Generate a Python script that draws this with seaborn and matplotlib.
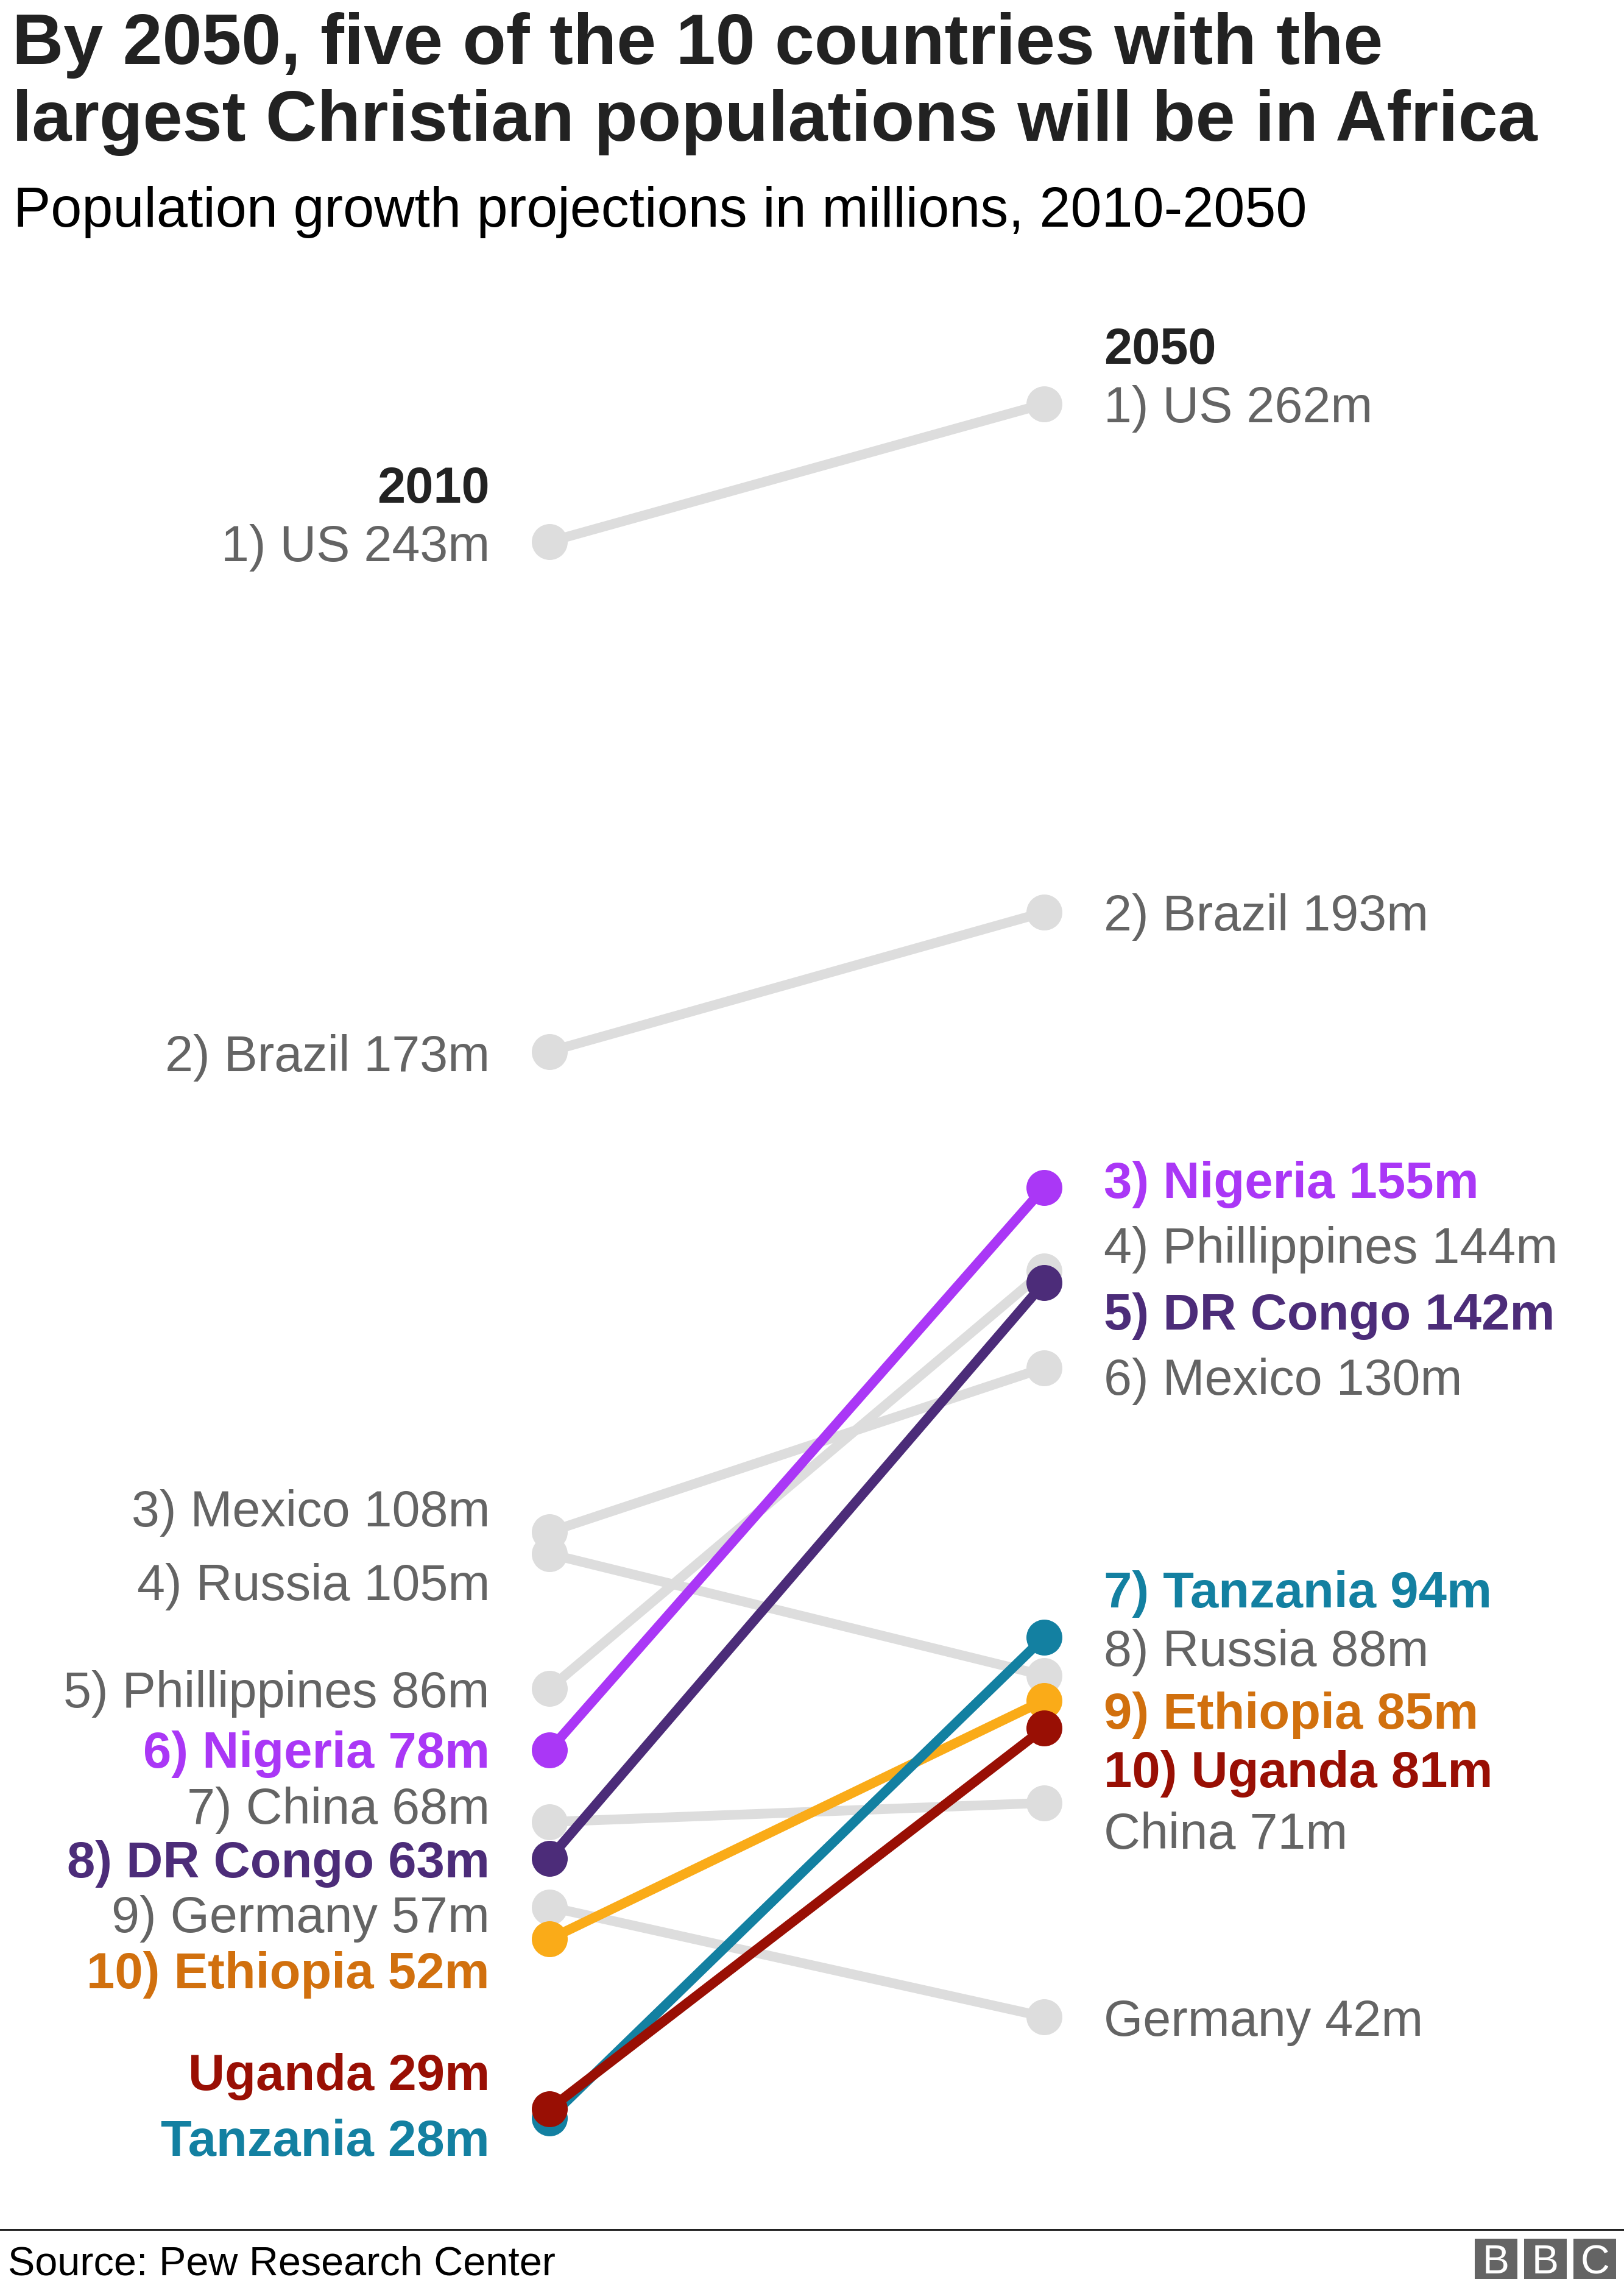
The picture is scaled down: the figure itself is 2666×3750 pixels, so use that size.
from __future__ import annotations

import pandas as pd
import seaborn as sns
from matplotlib import pyplot as plt
from matplotlib.patches import Rectangle


WIDTH, HEIGHT = 2666, 3750

COUNTRIES = [
    "US", "Brazil", "Mexico", "Russia", "Phillippines", "China", "Germany",
    "Nigeria", "DR Congo", "Ethiopia", "Tanzania", "Uganda",
]
# read off the dot positions, which are not quite the rounded labels
VALUES_2010 = [243.2, 173.6, 108, 105, 86.6, 68.4, 56.8, 78.2, 63.4, 52.4, 28, 29.2]
VALUES_2050 = [262, 192.6, 130.4, 88.4, 143.6, 71, 41.8, 155, 142, 85, 93.6, 81.2]

GREY_DOT = "#DDDDDD"
GREY_TEXT = "#646464"
LINE_COLOURS = {
    "Nigeria": "#AA37F6",
    "DR Congo": "#4C2C79",
    "Ethiopia": "#FAAB18",
    "Tanzania": "#1380A1",
    "Uganda": "#990F04",
}
TEXT_COLOURS = {**LINE_COLOURS, "Ethiopia": "#D1700E"}

LABELS_2010 = [
    ("US", "1) US 243m", 921),
    ("Brazil", "2) Brazil 173m", 1758),
    ("Mexico", "3) Mexico 108m", 2505),
    ("Russia", "4) Russia 105m", 2626),
    ("Phillippines", "5) Phillippines 86m", 2802),
    ("Nigeria", "6) Nigeria 78m", 2901),
    ("China", "7) China 68m", 2993),
    ("DR Congo", "8) DR Congo 63m", 3081),
    ("Germany", "9) Germany 57m", 3171),
    ("Ethiopia", "10) Ethiopia 52m", 3263),
    ("Uganda", "Uganda 29m", 3430),
    ("Tanzania", "Tanzania 28m", 3538),
]
LABELS_2050 = [
    ("US", "1) US 262m", 693),
    ("Brazil", "2) Brazil 193m", 1527),
    ("Nigeria", "3) Nigeria 155m", 1966),
    ("Phillippines", "4) Phillippines 144m", 2073),
    ("DR Congo", "5) DR Congo 142m", 2182),
    ("Mexico", "6) Mexico 130m", 2289),
    ("Tanzania", "7) Tanzania 94m", 2638),
    ("Russia", "8) Russia 88m", 2734),
    ("Ethiopia", "9) Ethiopia 85m", 2837),
    ("Uganda", "10) Uganda 81m", 2933),
    ("China", "China 71m", 3034),
    ("Germany", "Germany 42m", 3341),
]


def px_text(fig, x, y, text, size, **kwargs):
    # x, y in image pixels (y from the top), size in pixels at dpi 100
    return fig.text(x / WIDTH, 1 - y / HEIGHT, text, fontsize=size * 0.72, va="baseline", **kwargs)


def main() -> None:
    sns.set_theme(style="white")
    plt.rcParams["font.family"] = ["Liberation Sans", "DejaVu Sans"]

    rows = []
    for name, start, end in zip(COUNTRIES, VALUES_2010, VALUES_2050):
        rows.append({"country": name, "year": 2010, "millions": start})
        rows.append({"country": name, "year": 2050, "millions": end})
    df = pd.DataFrame(rows)

    fig = plt.figure(figsize=(WIDTH / 100, HEIGHT / 100), dpi=100, facecolor="white")
    ax = fig.add_axes([0, 0, 1, 1])

    palette = {name: LINE_COLOURS.get(name, GREY_DOT) for name in COUNTRIES}
    sns.lineplot(
        data=df,
        x="year",
        y="millions",
        hue="country",
        hue_order=COUNTRIES,
        palette=palette,
        errorbar=None,
        marker="o",
        markersize=59 * 0.72,
        markeredgewidth=0,
        linewidth=16 * 0.72,
        legend=False,
        ax=ax,
    )

    # scales: 2010 sits at x=902px, 2050 at 1714px; 262m at y=663px, 12.02px per million
    px_per_year = (1714 - 902) / 40
    ax.set_xlim(2010 - 902 / px_per_year, 2050 + (WIDTH - 1714) / px_per_year)
    ax.set_ylim(262 - (HEIGHT - 663) / 12.02, 262 + 663 / 12.02)
    ax.axis("off")

    title_colour = "#222222"
    px_text(fig, 20, 105, "By 2050, five of the 10 countries with the", 116.8, color=title_colour, fontweight="bold")
    px_text(fig, 20, 231, "largest Christian populations will be in Africa", 117, color=title_colour, fontweight="bold")
    px_text(fig, 22, 372, "Population growth projections in millions, 2010-2050", 91.7, color="black")

    px_text(fig, 804, 825, "2010", 83, color=title_colour, fontweight="bold", ha="right")
    px_text(fig, 1812, 597, "2050", 83, color=title_colour, fontweight="bold")

    for name, label, y in LABELS_2010:
        bold = name in TEXT_COLOURS
        px_text(fig, 804, y, label, 83.3 if bold else 82.8, ha="right", color=TEXT_COLOURS.get(name, GREY_TEXT),
                fontweight="bold" if bold else "normal")
    for name, label, y in LABELS_2050:
        bold = name in TEXT_COLOURS
        px_text(fig, 1812, y, label, 83.3 if bold else 82.8, color=TEXT_COLOURS.get(name, GREY_TEXT),
                fontweight="bold" if bold else "normal")

    # footer rule, source and logo
    fig.add_artist(Rectangle((0, 1 - 3661 / HEIGHT), 1, 3 / HEIGHT, transform=fig.transFigure, color="#222222", lw=0))
    px_text(fig, 13, 3733, "Source: Pew Research Center", 66.5, color="black")
    for left, letter in zip((2421, 2502, 2583), "BBC"):
        fig.add_artist(Rectangle((left / WIDTH, 1 - 3740 / HEIGHT), 70 / WIDTH, 66 / HEIGHT,
                                 transform=fig.transFigure, color="#646464", lw=0))
        px_text(fig, left + 35, 3731, letter, 66, color="white", ha="center")

    fig.savefig("out.png", dpi=100, facecolor="white")
    plt.close(fig)


if __name__ == "__main__":
    main()
